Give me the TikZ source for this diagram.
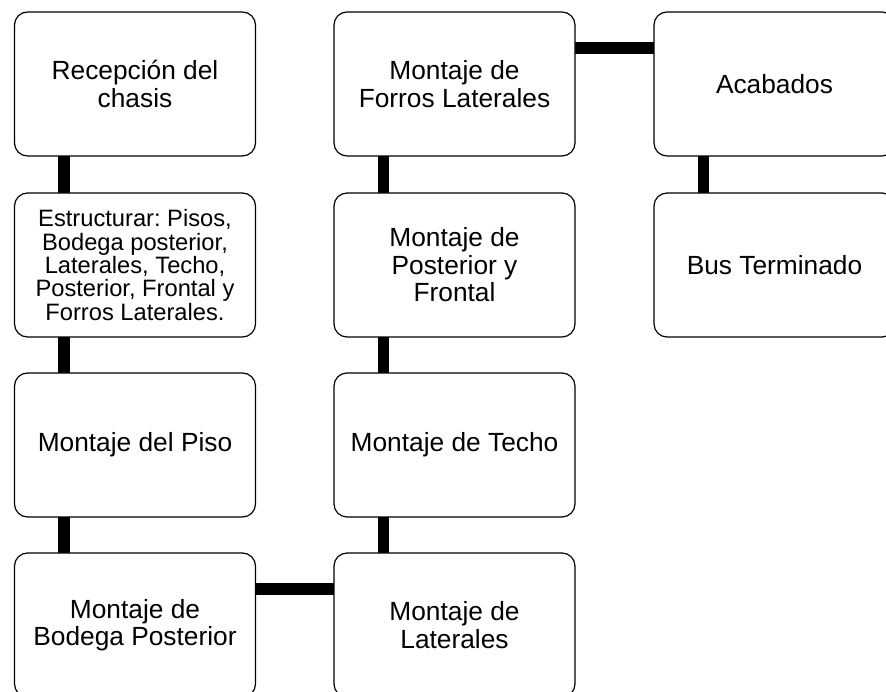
\documentclass[tikz,border=0pt]{standalone}
\usepackage{fontspec}
\setmainfont{Liberation Sans}
\usetikzlibrary{backgrounds}
\frenchspacing
\begin{document}
\begin{tikzpicture}[x=1pt,y=1pt,
  box/.style={draw=black, line width=1.2pt, rounded corners=13pt, fill=white,
    minimum width=241pt, minimum height=144pt, inner sep=2pt, outer sep=0pt,
    align=center, font=\fontsize{26.3}{27.5}\selectfont, anchor=north west},
  tight/.style={font=\fontsize{23.7}{23.3}\selectfont},
  conn/.style={line width=11.5pt, draw=black}]
\clip (0,0) rectangle (886,692);
% columns: left x = 14.5, 334, 654 ; rows: top y(img) = 12, 193, 373, 553
\node[box] (rec) at (14.5,680) {Recepción del\\chasis};
\node[box,tight] (est) at (14.5,499) {Estructurar: Pisos,\\Bodega posterior,\\Laterales, Techo,\\Posterior, Frontal y\\Forros Laterales.};
\node[box] (piso) at (14.5,319) {Montaje del Piso};
\node[box] (bod) at (14.5,139) {Montaje de\\Bodega Posterior};
\node[box] (lat) at (334,139) {Montaje de\\Laterales};
\node[box] (tec) at (334,319) {Montaje de Techo};
\node[box] (pos) at (334,499) {Montaje de\\Posterior y\\Frontal};
\node[box] (for) at (334,680) {Montaje de\\Forros Laterales};
\node[box] (aca) at (654,680) {Acabados};
\node[box] (bus) at (654,499) {Bus Terminado};
\begin{scope}[on background layer]
\fill[white] (0,0) rectangle (886,692);
\draw[conn] ([xshift=49.5pt]rec.south west) -- ([xshift=49.5pt]est.north west);
\draw[conn] ([xshift=49.5pt]est.south west) -- ([xshift=49.5pt]piso.north west);
\draw[conn] ([xshift=49.5pt]piso.south west) -- ([xshift=49.5pt]bod.north west);
\draw[conn] ([yshift=-36pt]bod.north east) -- ([yshift=-36pt]lat.north west);
\draw[conn] ([xshift=49.5pt]lat.north west) -- ([xshift=49.5pt]tec.south west);
\draw[conn] ([xshift=49.5pt]tec.north west) -- ([xshift=49.5pt]pos.south west);
\draw[conn] ([xshift=49.5pt]pos.north west) -- ([xshift=49.5pt]for.south west);
\draw[conn] ([yshift=-36pt]for.north east) -- ([yshift=-36pt]aca.north west);
\draw[conn] ([xshift=49.5pt]aca.south west) -- ([xshift=49.5pt]bus.north west);
\end{scope}
\end{tikzpicture}
\end{document}
